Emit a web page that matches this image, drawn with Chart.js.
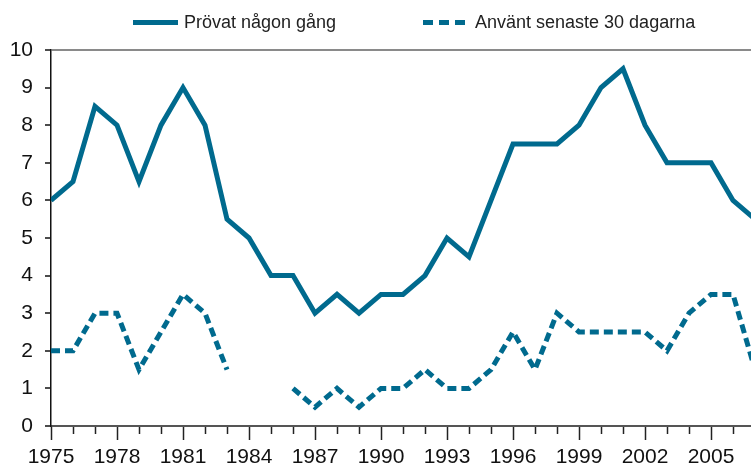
<!DOCTYPE html>
<html lang="sv">
<head>
  <meta charset="UTF-8" />
  <title>Prövat någon gång / Använt senaste 30 dagarna</title>
  <script src="https://cdn.jsdelivr.net/npm/chart.js"></script>
  <style>
    html, body {
      margin: 0;
      padding: 0;
      background: #ffffff;
      overflow: hidden;
    }

    .wrap {
      position: relative;
      width: 751px;
      height: 467px;
      overflow: hidden;
    }

    canvas {
      position: absolute;
      left: 0;
      top: 0;
    }

    .legend-item {
      position: absolute;
      top: 12px;
      display: flex;
      align-items: center;
      font-family: 'Liberation Sans', Arial, sans-serif;
      font-size: 18px;
      color: #222;
      white-space: nowrap;
    }

    .swatch {
      height: 5px;
      margin-right: 6px;
    }

    .swatch.solid {
      width: 45px;
      background: #006a8e;
    }

    .swatch.dashed {
      width: 42px;
      margin-right: 10px;
      background: repeating-linear-gradient(to right, #006a8e 0 10px, transparent 10px 16px);
    }
  </style>
</head>
<body>
  <div class="wrap">
    <canvas id="chart" width="760" height="467"></canvas>
    <div class="legend-item" style="left:133px"><span class="swatch solid"></span>Prövat någon gång</div>
    <div class="legend-item" style="left:423px"><span class="swatch dashed"></span>Använt senaste 30 dagarna</div>
  </div>

  <script>
    const years = [1975, 1976, 1977, 1978, 1979, 1980, 1981, 1982, 1983, 1984, 1985,
                   1986, 1987, 1988, 1989, 1990, 1991, 1992, 1993, 1994, 1995, 1996,
                   1997, 1998, 1999, 2000, 2001, 2002, 2003, 2004, 2005, 2006, 2007];
    // Prövat någon gång
    const tried = [6, 6.5, 8.5, 8, 6.5, 8, 9, 8, 5.5, 5, 4,
                   4, 3, 3.5, 3, 3.5, 3.5, 4, 5, 4.5, 6, 7.5,
                   7.5, 7.5, 8, 9, 9.5, 8, 7, 7, 7, 6, 5.5];
    // Använt senaste 30 dagarna (1984-1985 saknas)
    const used30 = [2, 2, 3, 3, 1.5, 2.5, 3.5, 3, 1.5, null, null,
                    1, 0.5, 1, 0.5, 1, 1, 1.5, 1, 1, 1.5, 2.5,
                    1.5, 3, 2.5, 2.5, 2.5, 2.5, 2, 3, 3.5, 3.5, 1.5];
    const yTicks = [0, 1, 2, 3, 4, 5, 6, 7, 8, 9, 10];
    const xLabelYears = [1975, 1978, 1981, 1984, 1987, 1990, 1993, 1996, 1999, 2002, 2005];

    const lineColor = '#006a8e';

    Chart.defaults.font.family = "'Liberation Sans', Arial, sans-serif";
    Chart.defaults.color = '#222';

    const toPoints = arr => years.map((y, i) => ({ x: y, y: arr[i] }));

    new Chart(document.getElementById('chart').getContext('2d'), {
      type: 'line',
      data: {
        datasets: [
          {
            label: 'Prövat någon gång',
            data: toPoints(tried),
            borderColor: lineColor,
            borderWidth: 5,
            borderJoinStyle: 'miter',
            pointRadius: 0,
            tension: 0
          },
          {
            label: 'Använt senaste 30 dagarna',
            data: toPoints(used30),
            borderColor: lineColor,
            borderWidth: 5,
            borderDash: [9, 5],
            borderJoinStyle: 'miter',
            pointRadius: 0,
            tension: 0,
            spanGaps: false
          }
        ]
      },
      options: {
        responsive: false,
        animation: false,
        devicePixelRatio: 1,
        layout: { padding: { top: 50, right: 5, bottom: 0, left: 0 } },
        plugins: {
          legend: { display: false },
          tooltip: { enabled: false }
        },
        scales: {
          x: {
            type: 'linear',
            min: 1975,
            max: 2007,
            afterBuildTicks: scale => {
              scale.ticks = years.map(v => ({ value: v }));
            },
            afterFit: scale => { scale.height = 41; },
            ticks: {
              autoSkip: false,
              maxRotation: 0,
              padding: 5,
              font: { size: 21 },
              color: '#111',
              callback: v => xLabelYears.includes(v) ? String(v) : ''
            },
            grid: {
              drawOnChartArea: false,
              tickLength: 14,
              tickWidth: 1.5,
              tickColor: '#222',
              tickBorderDash: ctx => (ctx.tick && xLabelYears.includes(ctx.tick.value)) ? [] : [7, 60]
            },
            border: { display: true, color: '#555', width: 2 }
          },
          y: {
            min: 0,
            max: 10,
            afterBuildTicks: scale => {
              scale.ticks = yTicks.map(v => ({ value: v }));
            },
            afterFit: scale => { scale.width = 51; },
            ticks: {
              padding: 12,
              font: { size: 21 },
              color: '#111'
            },
            grid: {
              drawOnChartArea: true,
              color: ctx => (ctx.tick && ctx.tick.value === 10) ? '#8a8a8a' : 'rgba(0,0,0,0)',
              lineWidth: 2,
              tickLength: 6,
              tickWidth: 1.5,
              tickColor: '#111'
            },
            border: { display: true, color: '#111', width: 1.5 }
          }
        }
      }
    });
  </script>
</body>
</html>
